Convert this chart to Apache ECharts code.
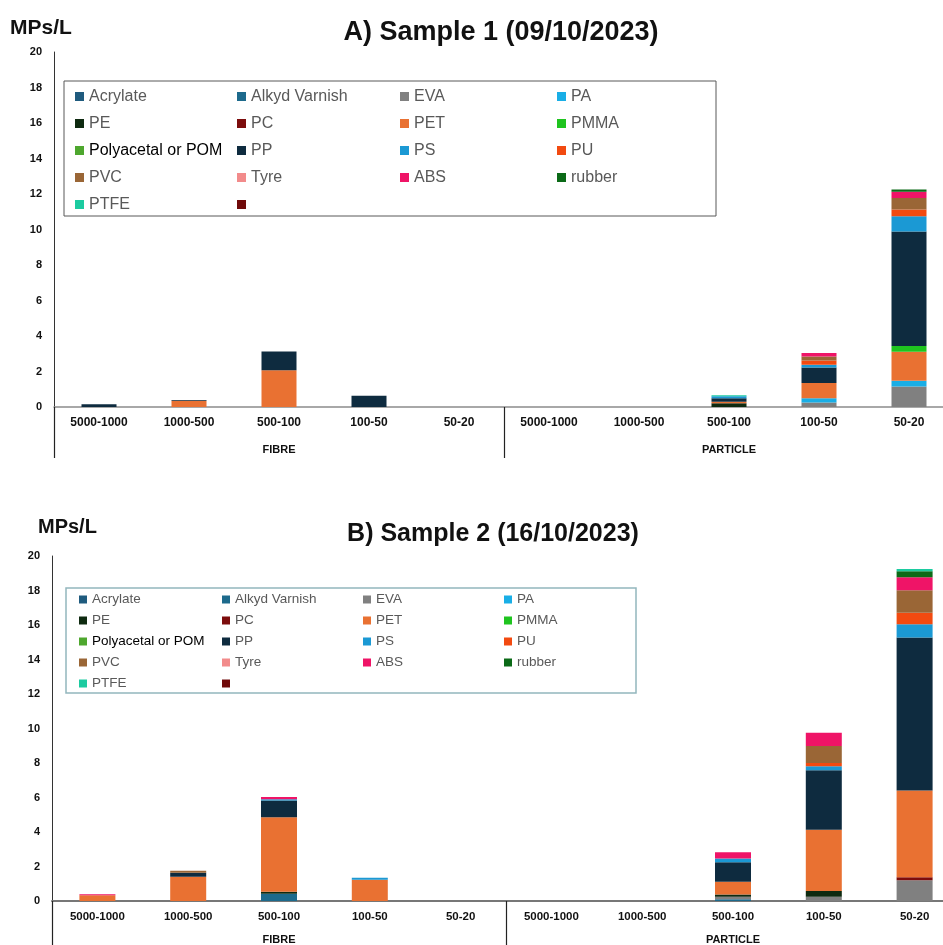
<!DOCTYPE html>
<html>
<head>
<meta charset="utf-8">
<script src="https://cdn.jsdelivr.net/npm/echarts@6/dist/echarts.min.js"></script>
<style>
html,body{margin:0;padding:0;background:#fff;overflow:hidden;width:943px;height:945px;}
#chart{width:965px;height:945px;}
</style>
</head>
<body>
<div id="chart"></div>
<script>
// ---- categories & ticks ----
const categories = ['5000-1000','1000-500','500-100','100-50','50-20','5000-1000','1000-500','500-100','100-50','50-20'];
const groups = ['FIBRE','PARTICLE'];
const polymerNames = ['Acrylate','Alkyd Varnish','EVA','PA','PE','PC','PET','PMMA','Polyacetal or POM','PP','PS','PU','PVC','Tyre','ABS','rubber','PTFE',' '];
const polymerColors = ['#1f5b7e','#1d6a8c','#808080','#19aee6','#0e2a10','#7c0c0c','#e97132','#1fc41f','#4ea72e','#0e2b3f','#1b99d4','#f24a10','#9a6636','#f28b8b','#ef1467','#0b6a17','#1ccba0','#700a0a'];

// ---- Sample 1 (09/10/2023): fibre 5 sizes, then particle 5 sizes ----
const s1Acrylate = [0,0,0,0,0, 0,0,0,0,0];
const s1Alkyd    = [0,0,0,0,0, 0,0,0,0,0];
const s1EVA      = [0,0,0,0,0, 0,0,0,0.26,1.16];
const s1PA       = [0,0,0,0,0, 0,0,0,0.23,0.32];
const s1PE       = [0,0,0,0,0, 0,0,0.21,0,0];
const s1PC       = [0,0,0,0,0, 0,0,0,0,0];
const s1PET      = [0,0.35,2.07,0,0, 0,0,0.09,0.86,1.63];
const s1PMMA     = [0,0,0,0,0, 0,0,0,0,0.32];
const s1POM      = [0,0,0,0,0, 0,0,0,0,0];
const s1PP       = [0.15,0.05,1.05,0.64,0, 0,0,0.19,0.88,6.46];
const s1PS       = [0,0,0,0,0, 0,0,0.11,0.15,0.85];
const s1PU       = [0,0,0,0,0, 0,0,0,0.24,0.39];
const s1PVC      = [0,0,0,0,0, 0,0,0,0.23,0.64];
const s1Tyre     = [0,0,0,0,0, 0,0,0,0,0];
const s1ABS      = [0,0,0,0,0, 0,0,0,0.19,0.36];
const s1Rubber   = [0,0,0,0,0, 0,0,0,0,0.13];
const s1PTFE     = [0,0,0,0,0, 0,0,0.06,0,0];
const s1Other    = [0,0,0,0,0, 0,0,0,0,0];

// ---- Sample 2 (16/10/2023) ----
const s2Acrylate = [0,0,0,0,0, 0,0,0,0,0];
const s2Alkyd    = [0,0,0.42,0,0, 0,0,0.10,0,0];
const s2EVA      = [0,0,0,0,0, 0,0,0.15,0.25,1.21];
const s2PA       = [0,0,0,0,0, 0,0,0,0,0];
const s2PE       = [0,0,0.12,0,0, 0,0,0.13,0.33,0];
const s2PC       = [0,0,0,0,0, 0,0,0,0,0.17];
const s2PET      = [0.33,1.41,4.32,1.23,0, 0,0,0.73,3.55,5.03];
const s2PMMA     = [0,0,0,0,0, 0,0,0,0,0];
const s2POM      = [0,0,0,0,0, 0,0,0,0,0];
const s2PP       = [0,0.23,0.96,0,0, 0,0,1.14,3.45,8.86];
const s2PS       = [0,0,0.08,0.12,0, 0,0,0.21,0.23,0.77];
const s2PU       = [0,0,0,0,0, 0,0,0,0.19,0.67];
const s2PVC      = [0,0.12,0,0,0, 0,0,0,0.98,1.31];
const s2Tyre     = [0,0,0,0,0, 0,0,0,0,0];
const s2ABS      = [0.06,0,0.13,0,0, 0,0,0.37,0.77,0.75];
const s2Rubber   = [0,0,0,0,0, 0,0,0,0,0.35];
const s2PTFE     = [0,0,0,0,0, 0,0,0,0,0.12];
const s2Other    = [0,0,0,0,0, 0,0,0,0,0];

const s1Data = [s1Acrylate,s1Alkyd,s1EVA,s1PA,s1PE,s1PC,s1PET,s1PMMA,s1POM,s1PP,s1PS,s1PU,s1PVC,s1Tyre,s1ABS,s1Rubber,s1PTFE,s1Other];
const s2Data = [s2Acrylate,s2Alkyd,s2EVA,s2PA,s2PE,s2PC,s2PET,s2PMMA,s2POM,s2PP,s2PS,s2PU,s2PVC,s2Tyre,s2ABS,s2Rubber,s2PTFE,s2Other];

const legendColumns = [
  ['Acrylate','PE','Polyacetal or POM','PVC','PTFE'],
  ['Alkyd Varnish','PC','PP','Tyre',' '],
  ['EVA','PET','PS','ABS'],
  ['PA','PMMA','PU','rubber']
];

const FONT = '"Liberation Sans", Arial, sans-serif';

const series = [];
polymerNames.forEach((n,i)=>{
  series.push({name:n,type:'bar',stack:'s1',xAxisIndex:0,yAxisIndex:0,barWidth:35,
    itemStyle:{color:polymerColors[i]},emphasis:{disabled:true},data:s1Data[i]});
});
polymerNames.forEach((n,i)=>{
  series.push({name:n,type:'bar',stack:'s2',xAxisIndex:2,yAxisIndex:1,barWidth:36,
    itemStyle:{color:polymerColors[i]},emphasis:{disabled:true},data:s2Data[i]});
});

function legendFmt(name){ return name==='Polyacetal or POM' ? '{k|'+name+'}' : name; }

const topLefts = [75,237,400,557];
const botLefts = [79,222,363,504];
const legends = [];
legendColumns.forEach((col,ci)=>{
  legends.push({orient:'vertical',left:topLefts[ci],top:87.5,padding:0,itemGap:9,itemWidth:9,itemHeight:9,icon:'rect',
    selectedMode:false,data:col,formatter:legendFmt,
    textStyle:{fontFamily:FONT,fontSize:16,lineHeight:18,color:'#595959',rich:{k:{fontFamily:FONT,fontSize:16,lineHeight:18,color:'#000'}}}});
});
legendColumns.forEach((col,ci)=>{
  legends.push({orient:'vertical',left:botLefts[ci],top:592,padding:0,itemGap:6,itemWidth:8,itemHeight:8,icon:'rect',
    selectedMode:false,data:col,formatter:legendFmt,
    textStyle:{fontFamily:FONT,fontSize:13.5,lineHeight:15,color:'#595959',rich:{k:{fontFamily:FONT,fontSize:13.5,lineHeight:15,color:'#000'}}}});
});

function catAxis(grid, lblSize, lineColor, lineW){
  return {type:'category',gridIndex:grid,data:categories,position:'bottom',
    axisLine:{lineStyle:{color:lineColor,width:lineW}},axisTick:{show:false},
    axisLabel:{interval:0,margin:10,fontFamily:FONT,fontWeight:'bold',fontSize:lblSize,color:'#111'}};
}
function groupAxis(grid, tickLen, margin){
  return {type:'category',gridIndex:grid,data:groups,position:'bottom',
    axisLine:{show:false},axisTick:{show:true,interval:0,length:tickLen,lineStyle:{color:'#222',width:1.2}},
    axisLabel:{interval:0,margin:margin,fontFamily:FONT,fontWeight:'bold',fontSize:11,color:'#111'}};
}
function valAxis(grid){
  return {type:'value',gridIndex:grid,min:0,max:20,interval:2,splitLine:{show:false},
    axisLine:{show:true,lineStyle:{color:'#333',width:1}},axisTick:{show:false},
    axisLabel:{margin:12,fontFamily:FONT,fontWeight:'bold',fontSize:11,color:'#111'}};
}

const option = {
  animation:false,
  backgroundColor:'#fff',
  grid:[
    {left:54,top:52,width:900,height:355},
    {left:52,top:556,width:908,height:346}
  ],
  xAxis:[catAxis(0,12,'#8c8c8c',1.5), groupAxis(0,51,37), catAxis(1,11.5,'#777',2), groupAxis(1,45,33)],
  yAxis:[valAxis(0), valAxis(1)],
  legend:legends,
  graphic:[
    {type:'rect',shape:{x:64,y:81,width:652,height:135},style:{fill:'none',stroke:'#595959',lineWidth:1},z:1},
    {type:'rect',shape:{x:66,y:588,width:570,height:105},style:{fill:'none',stroke:'#93b6bd',lineWidth:1.5},z:1},
    {type:'text',x:501,y:33,style:{text:'A) Sample 1 (09/10/2023)',textAlign:'center',textVerticalAlign:'middle',font:'bold 27px '+FONT,fill:'#111'}},
    {type:'text',x:10,y:28,style:{text:'MPs/L',textAlign:'left',textVerticalAlign:'middle',font:'bold 21px '+FONT,fill:'#111'}},
    {type:'text',x:493,y:534,style:{text:'B) Sample 2 (16/10/2023)',textAlign:'center',textVerticalAlign:'middle',font:'bold 25px '+FONT,fill:'#111'}},
    {type:'text',x:38,y:527,style:{text:'MPs/L',textAlign:'left',textVerticalAlign:'middle',font:'bold 20px '+FONT,fill:'#111'}}
  ],
  series:series
};

const chart = echarts.init(document.getElementById('chart'),null,{renderer:'canvas'});
chart.setOption(option);
</script>
</body>
</html>
